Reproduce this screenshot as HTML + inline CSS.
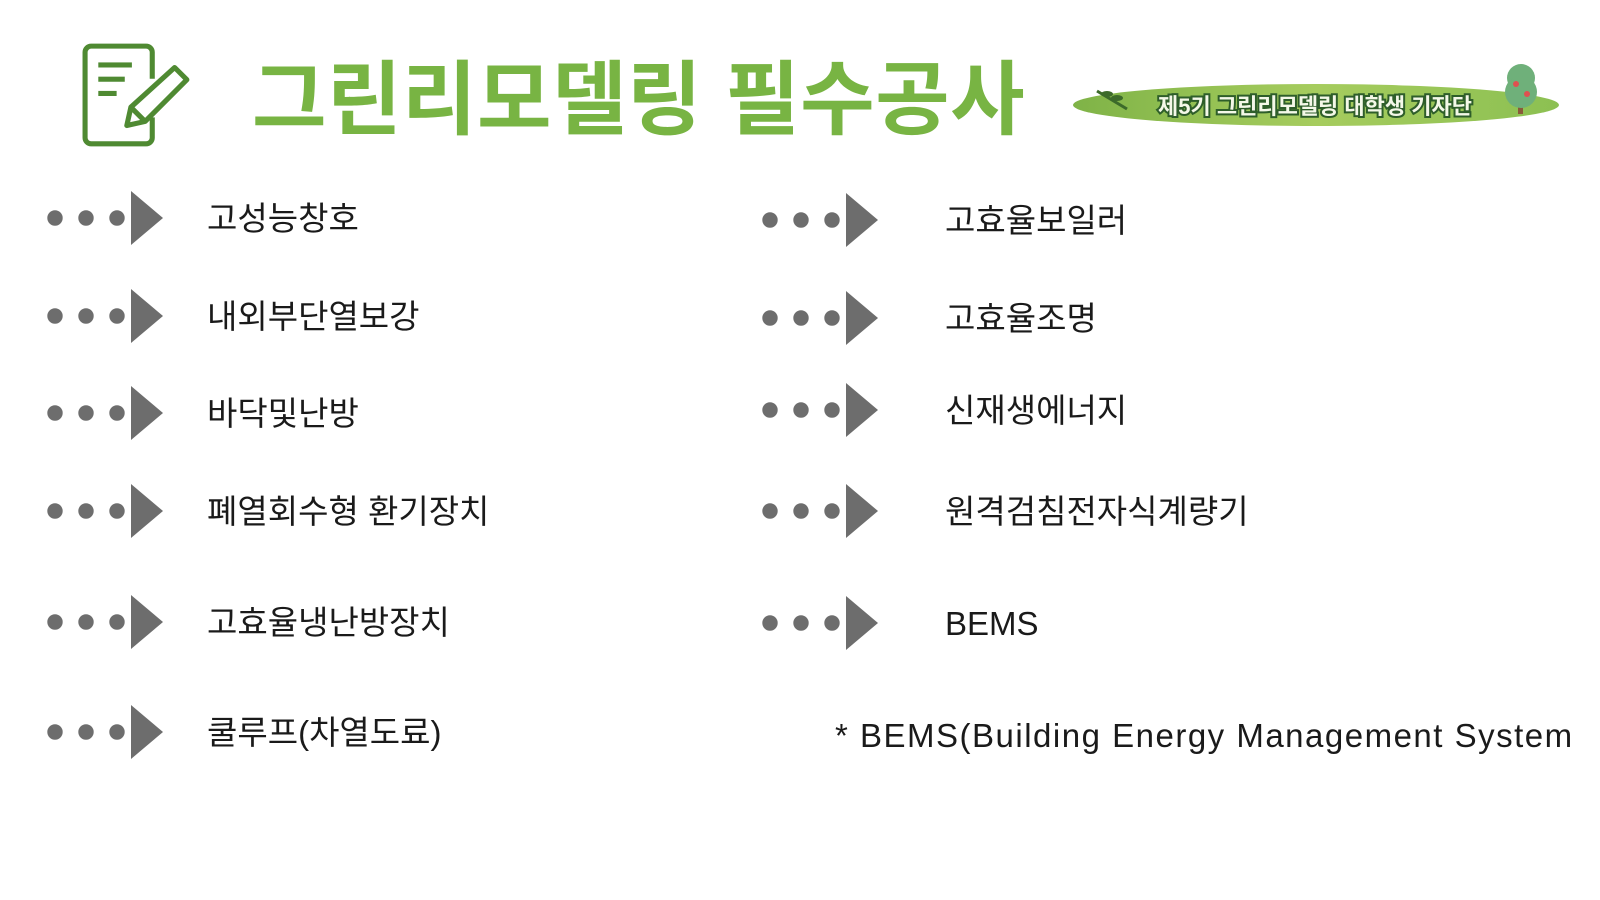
<!DOCTYPE html>
<html><head><meta charset="utf-8"><style>
body{margin:0;width:1600px;height:900px;background:#fff;position:relative;overflow:hidden;font-family:"Liberation Sans","Noto Sans CJK KR",sans-serif}
.t{position:absolute;font-size:33px;color:#1a1a1a;line-height:1;white-space:nowrap}
.m{position:absolute;width:125px;height:56px}
</style></head><body>
<svg style="position:absolute;left:81px;top:42px" width="114" height="108" viewBox="0 0 112 106">
<path d="M70 36 V10 a6 6 0 0 0 -6 -6 H10 a6 6 0 0 0 -6 6 V94 a6 6 0 0 0 6 6 H64 a6 6 0 0 0 6 -6 V74" fill="none" stroke="#4f8a32" stroke-width="5"/>
<rect x="17" y="20" width="33" height="5" fill="#4f8a32"/><rect x="17" y="34" width="26" height="5" fill="#4f8a32"/><rect x="17" y="48" width="18" height="5" fill="#4f8a32"/>
<path d="M92 25 L104 37 L63 78 L45 82 L49 64 Z M49 64 L63 78" fill="none" stroke="#4f8a32" stroke-width="5" stroke-linejoin="round"/>
</svg>
<div style="position:absolute;left:252px;top:61px;font-size:81px;font-weight:bold;color:#78b443;line-height:1;white-space:nowrap;letter-spacing:0.5px">그린리모델링 필수공사</div>
<svg style="position:absolute;left:1071px;top:34px" width="500" height="100">
<defs><linearGradient id="g" x1="0" x2="1"><stop offset="0" stop-color="#7fb347"/><stop offset="0.5" stop-color="#a6cc5e"/><stop offset="1" stop-color="#8cc052"/></linearGradient></defs>
<ellipse cx="245" cy="71" rx="243" ry="21" fill="url(#g)"/>
<path d="M26 57 l30 18" stroke="#3c6a2a" stroke-width="3"/>
<ellipse cx="36" cy="60" rx="6" ry="3" fill="#3c6a2a"/><ellipse cx="46" cy="64" rx="6" ry="3" fill="#3c6a2a"/>
<rect x="447" y="58" width="5" height="22" fill="#8a5a3a"/>
<circle cx="450" cy="44" r="14" fill="#6fb07a"/><circle cx="450" cy="58" r="16" fill="#6fb07a"/>
<circle cx="445" cy="50" r="3" fill="#e05050"/><circle cx="456" cy="60" r="3" fill="#e05050"/>
<text x="244" y="80" text-anchor="middle" font-family="Liberation Sans,Noto Sans CJK KR,sans-serif" font-weight="bold" font-size="22" fill="#f4f8e8" stroke="#2e5e2a" stroke-width="4" paint-order="stroke">제5기 그린리모델링 대학생 기자단</text>
</svg>
<svg width="0" height="0" style="position:absolute"><defs><g id="a" fill="#6d6d6d"><circle cx="8" cy="28" r="7.7"/><circle cx="39" cy="28" r="7.7"/><circle cx="70" cy="28" r="7.7"/><polygon points="84,1 116,28 84,55"/></g></defs></svg>
<svg class="m" style="left:47px;top:190px"><use href="#a"/></svg>
<svg class="m" style="left:47px;top:288px"><use href="#a"/></svg>
<svg class="m" style="left:47px;top:385px"><use href="#a"/></svg>
<svg class="m" style="left:47px;top:483px"><use href="#a"/></svg>
<svg class="m" style="left:47px;top:594px"><use href="#a"/></svg>
<svg class="m" style="left:47px;top:704px"><use href="#a"/></svg>
<svg class="m" style="left:762px;top:192px"><use href="#a"/></svg>
<svg class="m" style="left:762px;top:290px"><use href="#a"/></svg>
<svg class="m" style="left:762px;top:382px"><use href="#a"/></svg>
<svg class="m" style="left:762px;top:483px"><use href="#a"/></svg>
<svg class="m" style="left:762px;top:595px"><use href="#a"/></svg>
<div class="t" style="left:207px;top:202px">고성능창호</div>
<div class="t" style="left:207px;top:300px">내외부단열보강</div>
<div class="t" style="left:207px;top:397px">바닥및난방</div>
<div class="t" style="left:207px;top:495px">폐열회수형 환기장치</div>
<div class="t" style="left:207px;top:606px">고효율냉난방장치</div>
<div class="t" style="left:207px;top:716px">쿨루프(차열도료)</div>
<div class="t" style="left:945px;top:204px">고효율보일러</div>
<div class="t" style="left:945px;top:302px">고효율조명</div>
<div class="t" style="left:945px;top:394px">신재생에너지</div>
<div class="t" style="left:945px;top:495px">원격검침전자식계량기</div>
<div class="t" style="left:945px;top:607px">BEMS</div>
<div class="t" style="left:835px;top:719px;letter-spacing:1.5px">* BEMS(Building Energy Management System</div>
</body></html>
